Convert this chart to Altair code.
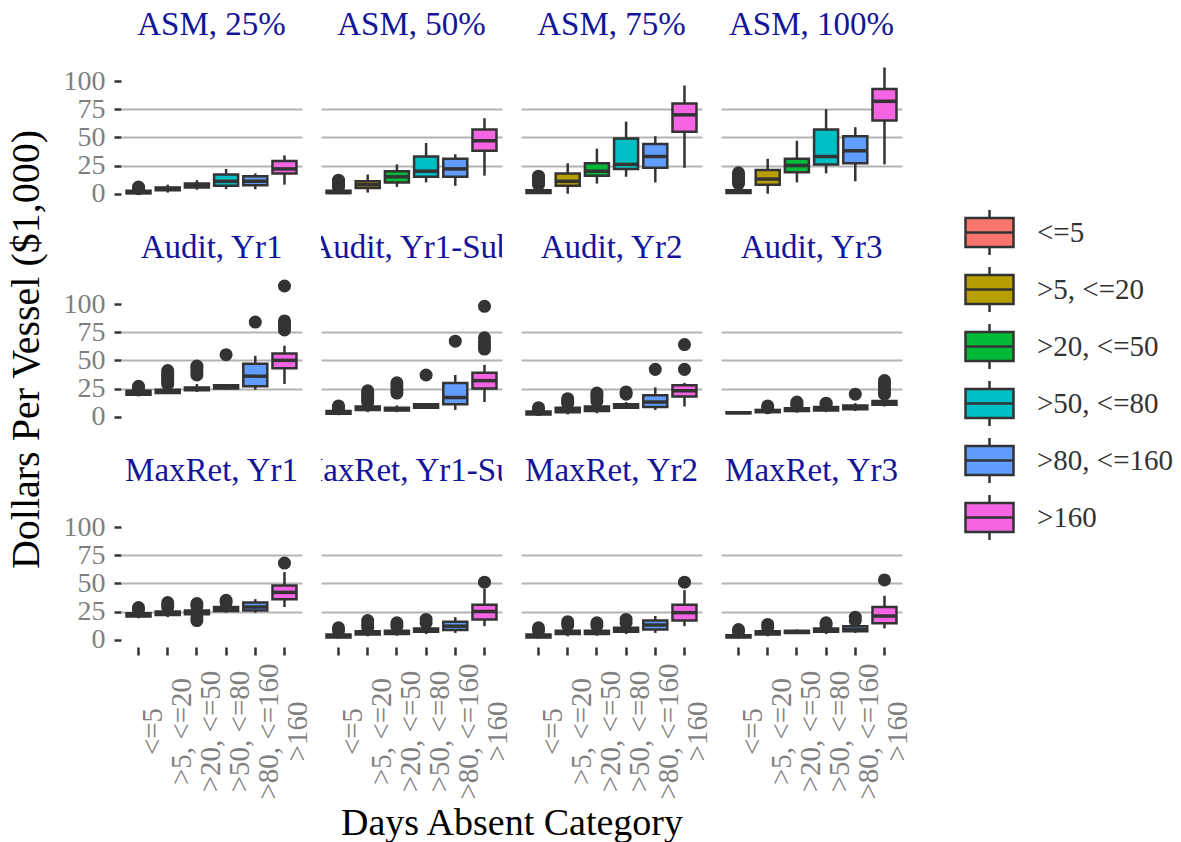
import altair as alt
import pandas as pd

categories = ["<=5", ">5, <=20", ">20, <=50", ">50, <=80", ">80, <=160", ">160"]
panels = ["ASM, 25%", "ASM, 50%", "ASM, 75%", "ASM, 100%",
          "Audit, Yr1", "Audit, Yr1-Sub", "Audit, Yr2", "Audit, Yr3",
          "MaxRet, Yr1", "MaxRet, Yr1-Sub", "MaxRet, Yr2", "MaxRet, Yr3"]
colors = ["#F8766D", "#B79F00", "#00BA38", "#00BFC4", "#619CFF", "#F564E3"]

whisker_low = [
    [0, 1, 3.5, 4, 4, 8],
    [0, 1, 6, 10, 7, 16],
    [0, 0, 9, 15, 10, 23],
    [0, 0, 10, 18, 11, 26],
    [18, 20, 22, 24, 24, 29],
    [1.5, 4, 4, 7, 6, 13],
    [1, 2, 3, 7, 6, 9],
    [2.5, 3, 3.5, 4, 5, 9],
    [19, 20, 21, 24, 24, 29],
    [1, 3, 3.5, 5, 6, 12],
    [1, 3, 3.5, 5, 6, 12],
    [1, 3, 5, 5, 6, 10],
]
q1 = [
    [0.3, 3, 5.5, 7, 7.5, 18],
    [0.5, 5, 10, 15, 15, 38],
    [0.5, 7, 16, 22, 23, 55],
    [0.5, 8, 19, 26, 27, 65],
    [19.5, 21, 23.5, 25, 27, 43],
    [2.5, 6, 5.5, 8, 11, 25],
    [2, 4, 5, 8, 8.5, 18],
    [3, 4, 5, 5.5, 6.5, 10.5],
    [20.5, 22, 22.5, 25.5, 26, 36],
    [2, 4.5, 5, 7, 8.5, 18],
    [2, 5, 5, 7, 9, 17],
    [2, 4.5, 6, 7, 7.5, 14.5],
]
median = [
    [1, 4.5, 7.5, 11, 11, 22],
    [1, 8, 15, 20, 22, 47],
    [1.5, 11, 20, 26, 33, 70],
    [1.5, 13, 25, 33, 38, 82],
    [21.5, 22, 24.5, 26.5, 36, 50],
    [3.5, 7.5, 6.5, 9.5, 17, 32],
    [3, 6, 7, 9.5, 13, 23],
    [3.5, 5, 6, 7, 8, 12],
    [22, 23.5, 24, 27, 29, 42],
    [3, 6, 6.5, 8.5, 12, 25],
    [3, 6.5, 6.5, 9, 13, 24],
    [3, 6, 7, 8.5, 9, 21],
]
q3 = [
    [2.5, 5.5, 9, 17, 15.5, 29],
    [2.5, 11, 20, 33, 31, 57],
    [3, 18, 27, 49, 44, 80],
    [3, 21, 31, 57, 51, 93],
    [23, 24, 26, 28, 47, 56],
    [5, 9, 8, 11, 30, 39],
    [4.5, 8, 9, 11, 19, 28],
    [4, 6, 7.5, 8.5, 10, 14],
    [23.5, 25, 26, 29, 33, 48],
    [4.5, 7.5, 8, 10, 16, 31],
    [4.5, 8, 8, 10.5, 17, 31],
    [4, 7.5, 8, 10, 12, 29],
]
whisker_high = [
    [3.5, 8, 12, 22, 18, 34],
    [5, 17, 26, 45, 35, 67],
    [6.5, 27, 40, 64, 51, 96],
    [7, 31, 47, 75, 59, 112],
    [24, 27, 29, 29, 54, 63],
    [6, 12, 10, 12, 37, 46],
    [5.5, 10, 12, 13, 26, 30],
    [5, 7, 9, 10, 12, 17],
    [25, 27, 28, 31, 36, 60],
    [6, 9, 10, 12, 20, 45],
    [6, 10, 10, 12, 21, 44],
    [5.5, 9, 9, 11.5, 14, 39],
]
outliers = [
    [[4.5, 5.2, 5.8], [], [], [], [], []],
    [[6, 7.5, 9, 10.5, 12], [], [], [], [], []],
    [[8, 10, 12, 14, 15.5], [], [], [], [], []],
    [[9, 11, 13, 15, 17, 18.5], [], [], [], [], []],
    [[25.5, 27], [29, 31, 33, 35, 37, 39, 41], [37, 40, 43, 45], [55], [84], [77, 80, 83, 85, 116]],
    [[7, 8.5, 9.5], [13, 15, 17, 19, 21, 23], [21, 24, 27, 30], [37], [67], [60, 63, 66, 70, 98]],
    [[6.5, 8], [12, 14, 16], [14, 17, 19, 21], [20, 22], [42], [42, 64]],
    [[], [8, 9.5], [10, 11.5, 13], [11, 12], [20], [20, 23, 26, 29, 32]],
    [[26.5, 28.5], [29, 31, 33], [17, 19.5, 30, 32], [33, 35], [], [68]],
    [[8, 10.5], [11, 14, 17], [12, 15], [15, 18], [], [51]],
    [[8, 10.5], [13, 16], [12.5, 15], [15, 18], [], [51]],
    [[7, 9], [11, 13.5], [], [13, 15], [17, 20], [53]],
]

rows = []
for p, name in enumerate(panels):
    for c, cat in enumerate(categories):
        rows.append(dict(panel=name, cat=cat, kind="box",
                         lo=whisker_low[p][c], q1=q1[p][c], med=median[p][c],
                         q3=q3[p][c], hi=whisker_high[p][c], value=None))
        for v in outliers[p][c]:
            rows.append(dict(panel=name, cat=cat, kind="out", value=v))
df = pd.DataFrame(rows)

FONT = "Liberation Serif"
DARK = "#333333"
W = 181
PANEL_H = 147          # data area height
STRIP = 47             # strip band height inside each cell (for the clipped title)
Y_LO, Y_HI = -6.5, 124
Y_TOP = Y_HI + STRIP * (Y_HI - Y_LO) / PANEL_H
H = PANEL_H + STRIP

xenc = alt.X("cat:N", sort=categories,
             scale=alt.Scale(type="band", paddingInner=0, paddingOuter=0.1),
             axis=alt.Axis(title=None, labelAngle=270, labelAlign="center", labelBaseline="top",
                           labelPadding=76, labelOverlap=False, labelFontSize=29,
                           labelColor="#7f7f7f", labelFont=FONT, tickSize=8, tickWidth=2.5,
                           tickColor=DARK, domain=False, grid=False,
                           labelBound=False, labelFlush=False))

yscale = alt.Scale(domain=[Y_LO, Y_TOP], nice=False, zero=False)
yaxis = alt.Axis(title=None, values=[0, 25, 50, 75, 100], tickCount=10, labelFontSize=28,
                 labelColor="#7f7f7f", labelFont=FONT, labelPadding=9, tickSize=7,
                 tickWidth=2.5, tickColor=DARK, domain=False, grid=True,
                 labelOverlap=False, labelBound=False, labelFlush=False,
                 gridColor="#b3b3b3", gridWidth=2,
                 gridOpacity={"condition": {"test": "datum.value == 0 || datum.value == 100",
                                            "value": 0}, "value": 1})

box_path = "M-1,-0.6H1V0.6H-1Z M-1,0H1 M0,-0.6V-0.94 M0,0.6V0.94"

base = alt.Chart(df)
whisk = base.transform_filter("datum.kind == 'box'").mark_rule(
    color=DARK, strokeWidth=2.5).encode(
    x=xenc, y=alt.Y("lo:Q", scale=yscale, axis=yaxis), y2="hi:Q")
box = base.transform_filter("datum.kind == 'box'").mark_bar(
    size=24, stroke=DARK, strokeWidth=2.5).encode(
    x=xenc, y=alt.Y("q1:Q", title=None), y2="q3:Q",
    fill=alt.Fill("cat:N", sort=categories,
                  scale=alt.Scale(domain=categories, range=colors),
                  legend=alt.Legend(title=None, orient="none", legendX=843, legendY=200,
                                    symbolType=box_path, symbolSize=2304,
                                    symbolStrokeColor=DARK, symbolStrokeWidth=2.5,
                                    labelFontSize=29, labelFont=FONT, labelColor=DARK,
                                    labelOffset=22, rowPadding=0, symbolOpacity=1)))
med = base.transform_filter("datum.kind == 'box'").mark_tick(
    size=24, thickness=3.5, color=DARK, opacity=1).encode(
    x=xenc, y=alt.Y("med:Q", title=None))
outl = base.transform_filter("datum.kind == 'out'").mark_circle(
    size=170, color=DARK, opacity=1).encode(
    x=xenc, y=alt.Y("value:Q", title=None))
strip = base.transform_filter("datum.kind == 'box' && datum.cat == '<=5'").mark_text(
    font=FONT, fontSize=33, color="#14149a", align="center", baseline="middle",
    clip=True).encode(
    x=alt.value(W / 2), y=alt.value(STRIP - 29), text="panel:N")

layer = alt.layer(whisk, box, med, outl, strip).properties(width=W, height=H)

chart = layer.facet(
    facet=alt.Facet("panel:N", sort=panels, title="Days Absent Category",
                    header=alt.Header(labels=False, labelExpr="''", labelFontSize=1,
                                      labelColor="white", labelPadding=0,
                                      titleOrient="bottom", titleFontSize=38, titleFont=FONT,
                                      titleColor="black", titleFontWeight="normal",
                                      titlePadding=5)),
    columns=4,
    spacing={"row": 76 - STRIP, "column": 19},
    bounds="flush",
).properties(
    title=alt.TitleParams("Dollars Per Vessel ($1,000)", orient="left", anchor="middle",
                          font=FONT, fontSize=40, fontWeight="normal", color="black",
                          dx=75, dy=-12),
    padding={"left": 6, "top": 6, "right": 5, "bottom": 3},
    background="white",
).configure_view(stroke=None)

chart.save("out.html", embed_options={"renderer": "svg", "actions": False})
